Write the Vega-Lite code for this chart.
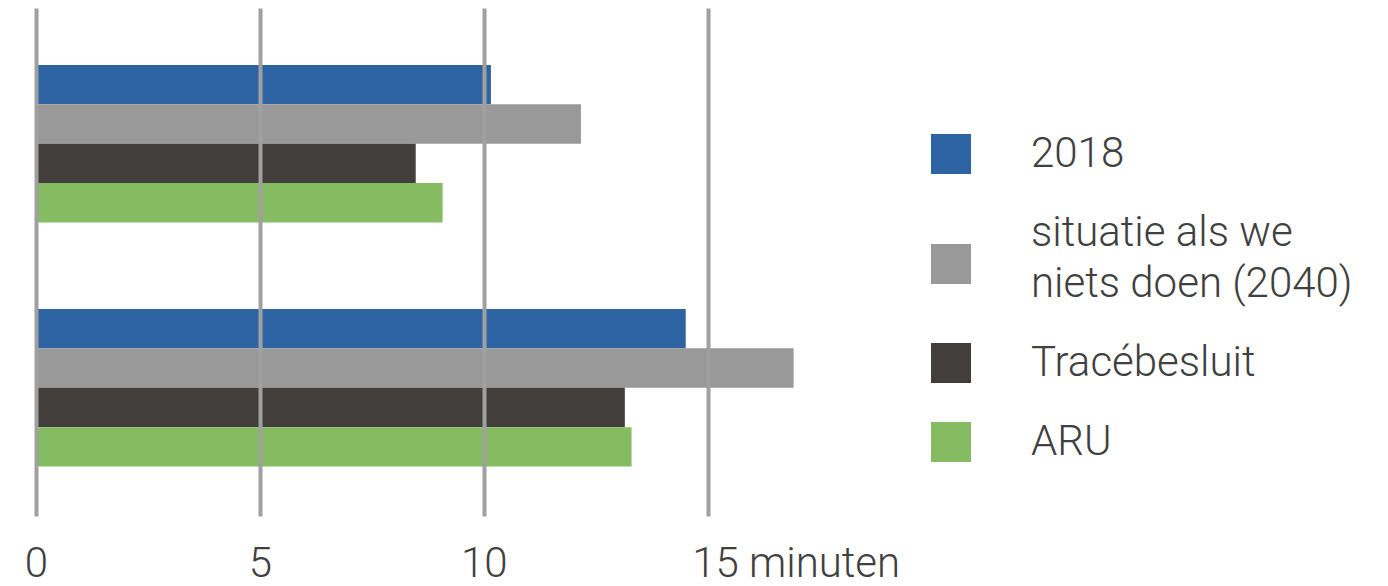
{
  "$schema": "https://vega.github.io/schema/vega-lite/v6.json",
  "width": 806,
  "height": 508,
  "autosize": {"type": "none"},
  "padding": {"left": 36, "top": 8, "right": 546, "bottom": 70},
  "background": "white",
  "config": {"view": {"stroke": null}, "font": "Roboto"},
  "data": {
    "values": [
      {"groep": "A", "scenario": "2018", "minuten": 10.16},
      {"groep": "A", "scenario": "situatie als we niets doen (2040)", "minuten": 12.17},
      {"groep": "A", "scenario": "Tracébesluit", "minuten": 8.48},
      {"groep": "A", "scenario": "ARU", "minuten": 9.08},
      {"groep": "B", "scenario": "2018", "minuten": 14.51},
      {"groep": "B", "scenario": "situatie als we niets doen (2040)", "minuten": 16.92},
      {"groep": "B", "scenario": "Tracébesluit", "minuten": 13.15},
      {"groep": "B", "scenario": "ARU", "minuten": 13.3}
    ]
  },
  "mark": {"type": "bar", "cornerRadius": 0},
  "encoding": {
    "y": {
      "field": "groep",
      "type": "nominal",
      "axis": null,
      "scale": {"paddingInner": 0.3545, "paddingOuter": 0.218, "align": 0.535}
    },
    "yOffset": {
      "field": "scenario",
      "type": "nominal",
      "sort": ["2018", "situatie als we niets doen (2040)", "Tracébesluit", "ARU"],
      "scale": {"paddingInner": 0, "paddingOuter": 0}
    },
    "x": {
      "field": "minuten",
      "type": "quantitative",
      "scale": {"domain": [0, 18], "nice": false, "zero": true},
      "axis": {
        "title": null,
        "values": [0, 5, 10, 15],
        "grid": true,
        "gridColor": "#a0a0a0",
        "gridWidth": 4,
        "domain": false,
        "ticks": false,
        "zindex": 1,
        "labelFont": "Roboto",
        "labelFontWeight": 300,
        "labelFontSize": 42,
        "labelColor": "#404040",
        "labelPadding": 27,
        "labelBaseline": "top",
        "labelFlush": false,
        "labelOverlap": false,
        "labelLimit": 0,
        "labelExpr": "datum.value == 15 ? '15 minuten' : datum.label",
        "labelAlign": {"condition": {"test": "datum.value == 15", "value": "left"}, "value": "center"},
        "labelOffset": {"condition": {"test": "datum.value == 15", "value": -16}, "value": 0}
      }
    },
    "color": {
      "field": "scenario",
      "type": "nominal",
      "scale": {
        "domain": ["2018", "situatie als we niets doen (2040)", "Tracébesluit", "ARU"],
        "range": ["#2e63a3", "#999999", "#423e3c", "#85bc62"]
      },
      "legend": {
        "title": null,
        "orient": "none",
        "legendX": 894,
        "legendY": 125,
        "padding": 0,
        "symbolType": "square",
        "symbolSize": 1600,
        "symbolStrokeWidth": 0,
        "symbolOpacity": 1,
        "labelFont": "Roboto",
        "labelFontWeight": 300,
        "labelFontSize": 42,
        "labelColor": "#404040",
        "labelOffset": 59,
        "labelLimit": 0,
        "rowPadding": 37,
        "labelExpr": "datum.label == 'situatie als we niets doen (2040)' ? ['situatie als we', 'niets doen (2040)'] : datum.label",
        "encoding": {
          "labels": {
            "lineHeight": {"value": 51},
            "dy": {"condition": {"test": "datum.value == 'situatie als we niets doen (2040)'", "value": -31}, "value": 0}
          }
        }
      }
    }
  }
}
